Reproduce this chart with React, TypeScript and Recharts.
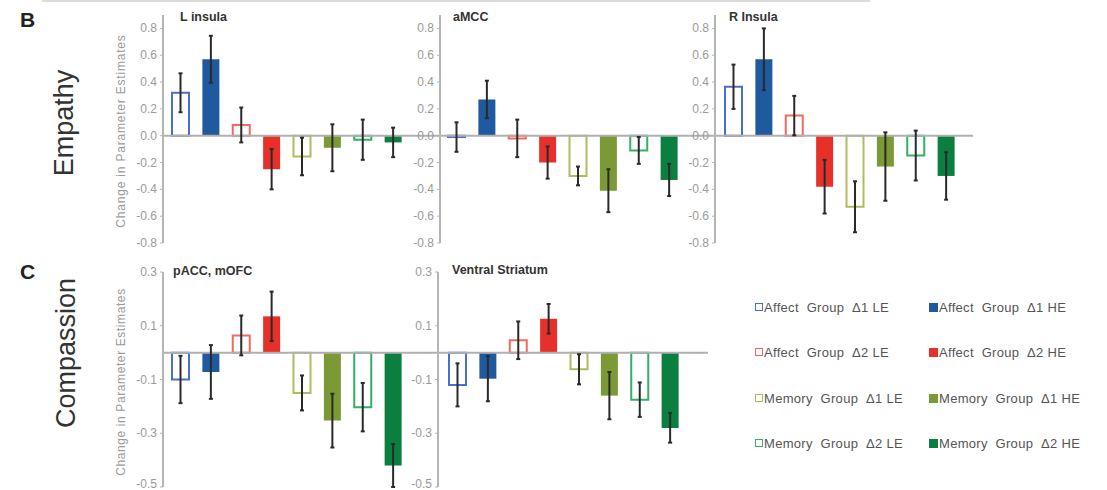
import React from 'react';
import { BarChart, Bar, XAxis, YAxis, Cell, ErrorBar, ReferenceLine } from 'recharts';

const categories = [
  'Affect Group Δ1 LE',
  'Affect Group Δ1 HE',
  'Affect Group Δ2 LE',
  'Affect Group Δ2 HE',
  'Memory Group Δ1 LE',
  'Memory Group Δ1 HE',
  'Memory Group Δ2 LE',
  'Memory Group Δ2 HE',
];
const seriesColors = ['#4a6fc8', '#1f5a9e', '#f06a62', '#e8302a', '#b2ba60', '#7b9a35', '#33b065', '#0a7f3f'];
const seriesHollow = [true, false, true, false, true, false, true, false];

const empathyTicks = [-0.8, -0.6, -0.4, -0.2, 0, 0.2, 0.4, 0.6, 0.8];
const compassionTicks = [-0.5, -0.3, -0.1, 0.1, 0.3];

const lInsulaValues = [0.32, 0.57, 0.08, -0.25, -0.155, -0.09, -0.03, -0.05];
const lInsulaErrors = [0.145, 0.175, 0.13, 0.15, 0.14, 0.175, 0.15, 0.11];
const aMCCValues = [-0.01, 0.27, -0.02, -0.2, -0.3, -0.41, -0.11, -0.33];
const aMCCErrors = [0.11, 0.14, 0.14, 0.12, 0.07, 0.16, 0.1, 0.12];
const rInsulaValues = [0.365, 0.57, 0.15, -0.38, -0.53, -0.23, -0.148, -0.3];
const rInsulaErrors = [0.165, 0.23, 0.147, 0.2, 0.19, 0.255, 0.186, 0.177];
const paccValues = [-0.1, -0.072, 0.064, 0.135, -0.15, -0.253, -0.203, -0.42];
const paccErrors = [0.088, 0.1, 0.074, 0.092, 0.065, 0.1, 0.09, 0.08];
const vsValues = [-0.12, -0.097, 0.046, 0.126, -0.062, -0.16, -0.175, -0.28];
const vsErrors = [0.08, 0.084, 0.07, 0.055, 0.056, 0.088, 0.064, 0.055];

const FONT = '"Liberation Sans", Arial, Helvetica, sans-serif';
const PAGE_H = 490;

function buildData(values: number[], errors: number[]) {
  return categories.map((name, i) => ({ name, value: values[i], err: errors[i] }));
}

type PanelProps = {
  axisX: number;
  chartTop: number;
  plotTop: number;
  plotHeight: number;
  plotWidth: number;
  padL: number;
  padR: number;
  domain: [number, number];
  ticks: number[];
  values: number[];
  errors: number[];
  title: string;
  titleX: number;
  titleY: number;
};

function Panel(p: PanelProps) {
  const yw = 40;
  const data = buildData(p.values, p.errors);
  const maxLabelY = PAGE_H - p.chartTop - 6;
  const renderTick = (props: any) => {
    const { x, y, payload } = props;
    const ty = Math.min(y, maxLabelY);
    return (
      <text x={x} y={ty} dy={4} textAnchor="end" fill="#9a9a9a" fontSize={12} fontFamily={FONT}>
        {Number(payload.value).toFixed(1)}
      </text>
    );
  };
  return (
    <>
      <div style={{ position: 'absolute', left: p.axisX - yw, top: p.chartTop }}>
        <BarChart
          width={yw + p.plotWidth}
          height={p.plotTop + p.plotHeight + 12}
          data={data}
          margin={{ top: p.plotTop, right: 0, bottom: 12, left: 0 }}
          barSize={17}
        >
          <XAxis dataKey="name" hide padding={{ left: p.padL, right: p.padR }} />
          <YAxis
            width={yw}
            domain={p.domain}
            ticks={p.ticks}
            type="number"
            allowDataOverflow
            interval={0}
            tick={renderTick}
            axisLine={{ stroke: '#b5b5b5', strokeWidth: 2 }}
            tickLine={{ stroke: '#b5b5b5' }}
            tickSize={3}
            tickMargin={3}
          />
          <ReferenceLine y={0} stroke="#b0b0b0" strokeWidth={2} />
          <Bar dataKey="value" isAnimationActive={false}>
            {data.map((d, i) => (
              <Cell
                key={d.name}
                fill={seriesHollow[i] ? '#ffffff' : seriesColors[i]}
                stroke={seriesColors[i]}
                strokeWidth={seriesHollow[i] ? 2 : 0}
              />
            ))}
            <ErrorBar dataKey="err" width={2} strokeWidth={2} stroke="#2a2a2a" isAnimationActive={false} />
          </Bar>
        </BarChart>
      </div>
      <div
        style={{
          position: 'absolute',
          left: p.titleX,
          top: p.titleY - 7,
          fontFamily: FONT,
          fontWeight: 700,
          fontSize: 12.5,
          lineHeight: '14px',
          color: '#333',
          whiteSpace: 'nowrap',
        }}
      >
        {p.title}
      </div>
    </>
  );
}

function Rotated({ cx, cy, text, size, color, spacing }: { cx: number; cy: number; text: string; size: number; color: string; spacing?: number }) {
  return (
    <div
      style={{
        position: 'absolute',
        left: cx,
        top: cy,
        transform: 'translate(-50%, -50%) rotate(-90deg)',
        fontFamily: FONT,
        fontSize: size,
        color,
        letterSpacing: spacing || 0,
        whiteSpace: 'nowrap',
        lineHeight: 1,
      }}
    >
      {text}
    </div>
  );
}

export default function App() {
  const legendRows = [307, 352, 398, 443];
  const legendCols = [755, 929];
  return (
    <div style={{ position: 'absolute', left: 0, top: 0, width: 1107, height: PAGE_H, background: '#fff', overflow: 'hidden' }}>
      <div style={{ position: 'absolute', left: 42, top: 0, width: 828, height: 2, background: '#dcdcdc' }} />
      <div style={{ position: 'absolute', left: 20, top: 8, fontFamily: FONT, fontWeight: 700, fontSize: 21, lineHeight: '24px', color: '#222' }}>B</div>
      <div style={{ position: 'absolute', left: 20, top: 260, fontFamily: FONT, fontWeight: 700, fontSize: 21, lineHeight: '24px', color: '#222' }}>C</div>
      <Rotated cx={64} cy={123} text="Empathy" size={27} color="#333" />
      <Rotated cx={66} cy={353} text="Compassion" size={27} color="#333" />
      <Rotated cx={121} cy={131} text="Change in Parameter Estimates" size={12} color="#9a9a9a" spacing={0.8} />
      <Rotated cx={121} cy={382} text="Change in Parameter Estimates" size={12} color="#9a9a9a" spacing={0.6} />

      <Panel axisX={163} chartTop={0} plotTop={15} plotHeight={228} plotWidth={277} padL={2} padR={32}
        domain={[-0.8, 0.9]} ticks={empathyTicks} values={lInsulaValues} errors={lInsulaErrors}
        title="L insula" titleX={180} titleY={17} />
      <Panel axisX={440} chartTop={0} plotTop={15} plotHeight={228} plotWidth={275} padL={1} padR={31}
        domain={[-0.8, 0.9]} ticks={empathyTicks} values={aMCCValues} errors={aMCCErrors}
        title="aMCC" titleX={453} titleY={17} />
      <Panel axisX={715} chartTop={0} plotTop={15} plotHeight={228} plotWidth={258} padL={3} padR={12}
        domain={[-0.8, 0.9]} ticks={empathyTicks} values={rInsulaValues} errors={rInsulaErrors}
        title="R Insula" titleX={729} titleY={17} />
      <Panel axisX={163} chartTop={257} plotTop={15} plotHeight={215} plotWidth={275} padL={2} padR={30}
        domain={[-0.5, 0.3]} ticks={compassionTicks} values={paccValues} errors={paccErrors}
        title="pACC, mOFC" titleX={173} titleY={271} />
      <Panel axisX={438} chartTop={257} plotTop={15} plotHeight={215} plotWidth={270} padL={4} padR={23}
        domain={[-0.5, 0.3]} ticks={compassionTicks} values={vsValues} errors={vsErrors}
        title="Ventral Striatum" titleX={452} titleY={270} />

      {categories.map((name, i) => {
        const col = i % 2;
        const row = Math.floor(i / 2);
        const hollow = seriesHollow[i];
        return (
          <div key={name} style={{ position: 'absolute', left: legendCols[col], top: legendRows[row] - 8, display: 'flex', alignItems: 'center', height: 16 }}>
            <div
              style={{
                width: hollow ? 6 : 9,
                height: hollow ? 6 : 9,
                border: hollow ? `1.5px solid ${seriesColors[i]}` : 'none',
                background: hollow ? '#fff' : seriesColors[i],
                marginRight: 1,
              }}
            />
            <span style={{ fontFamily: FONT, fontSize: 13, color: '#555', whiteSpace: 'pre', letterSpacing: 0.3 }}>
              {name.replace(' Group ', '  Group  ')}
            </span>
          </div>
        );
      })}
    </div>
  );
}
